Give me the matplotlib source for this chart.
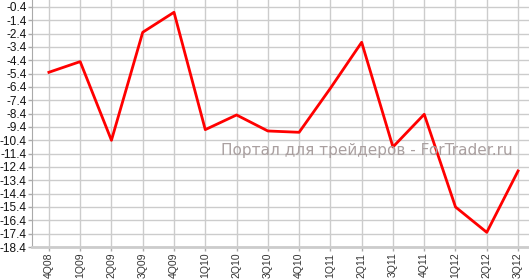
import matplotlib
matplotlib.use('Agg')
import matplotlib.pyplot as plt

quarters = ['4Q08', '1Q09', '2Q09', '3Q09', '4Q09', '1Q10', '2Q10', '3Q10',
            '4Q10', '1Q11', '2Q11', '3Q11', '4Q11', '1Q12', '2Q12', '3Q12']
values = [-5.3, -4.5, -10.4, -2.3, -0.8, -9.6, -8.5, -9.7,
          -9.8, -6.5, -3.05, -10.9, -8.45, -15.4, -17.3, -12.7]
yticks = [-0.4 - i for i in range(19)]

fig = plt.figure(figsize=(5.29, 2.79), dpi=100)
ax = fig.add_axes([32 / 529, 32 / 279, 1 - 32 / 529, 1 - 32 / 279])

x = list(range(len(quarters)))
ax.plot(x, values, color='#ff0000', linewidth=2, zorder=3)

ax.set_xlim(-0.54, 15.35)
ax.set_ylim(-18.4, 0.12)
ax.set_xticks(x)
ax.set_xticklabels(quarters, rotation=90, fontsize=7.5,
                   family='Liberation Sans', color='#333333')
ax.set_yticks(yticks)
ax.set_yticklabels(['%.1f' % v for v in yticks], fontsize=8.5,
                   family='Liberation Sans', color='#111111')

ax.grid(True, color='#cccccc', linewidth=1)
ax.set_axisbelow(True)
for side in ['top', 'right']:
    ax.spines[side].set_visible(False)
ax.spines['left'].set_color('#aaaaaa')
ax.spines['bottom'].set_color('#cccccc')
ax.spines['bottom'].set_linewidth(2)
ax.tick_params(axis='both', colors='#aaaaaa', length=3, width=1, pad=1)
for lbl in ax.get_yticklabels():
    lbl.set_color('#111111')
for lbl in ax.get_xticklabels():
    lbl.set_color('#333333')

fig.text(367 / 529, 1 - 150 / 279, 'Портал для трейдеров - ForTrader.ru',
         fontsize=11, color='#aaa0a0', ha='center', va='center', zorder=2)

fig.savefig('out.png', dpi=100)
